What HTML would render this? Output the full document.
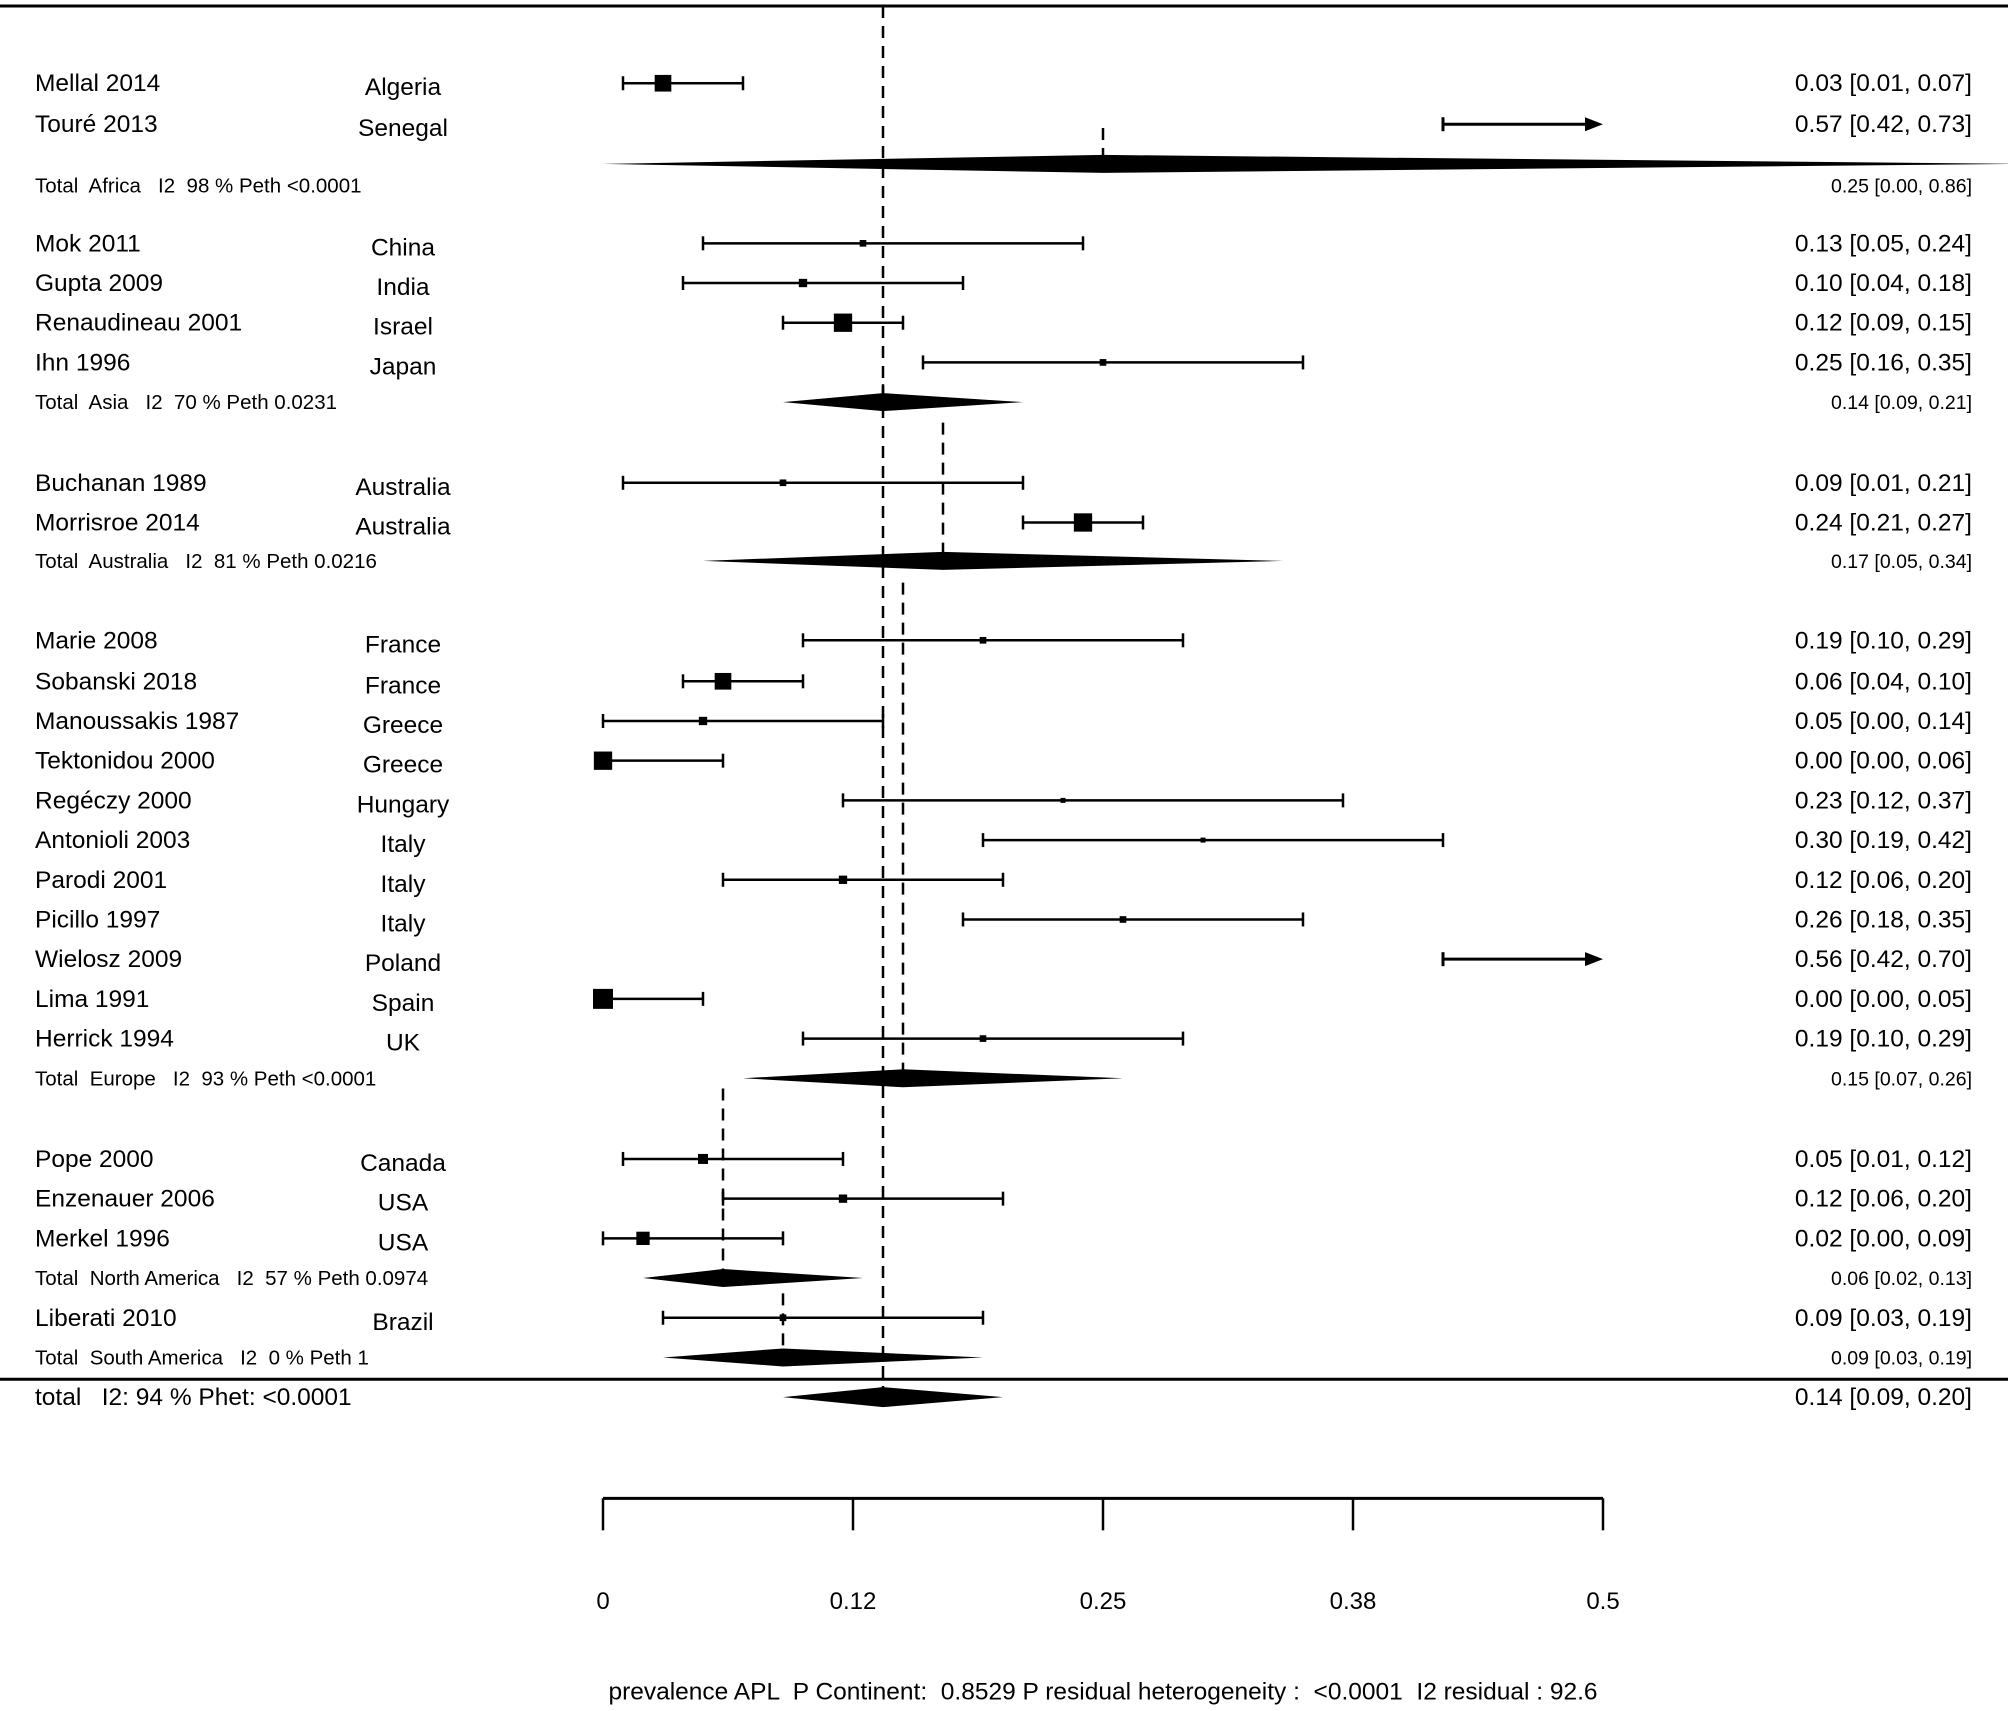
<!DOCTYPE html>
<html><head><meta charset="utf-8">
<style>
html,body{margin:0;padding:0;background:#fff;}
svg{display:block;}
text{font-family:"Liberation Sans",Arial,sans-serif;fill:#000;white-space:pre;}
</style></head>
<body>
<svg id="chart" width="2008" height="1711" viewBox="0 0 2008 1711" xmlns="http://www.w3.org/2000/svg" xml:space="preserve"></svg>
<script>
// ---- data ----
const studyNames = ["Mellal 2014","Touré 2013","Mok 2011","Gupta 2009","Renaudineau 2001","Ihn 1996","Buchanan 1989","Morrisroe 2014","Marie 2008","Sobanski 2018","Manoussakis 1987","Tektonidou 2000","Regéczy 2000","Antonioli 2003","Parodi 2001","Picillo 1997","Wielosz 2009","Lima 1991","Herrick 1994","Pope 2000","Enzenauer 2006","Merkel 1996","Liberati 2010"];
const studyCountries = ["Algeria","Senegal","China","India","Israel","Japan","Australia","Australia","France","France","Greece","Greece","Hungary","Italy","Italy","Italy","Poland","Spain","UK","Canada","USA","USA","Brazil"];
const studyEst = [0.03,0.57,0.13,0.10,0.12,0.25,0.09,0.24,0.19,0.06,0.05,0.00,0.23,0.30,0.12,0.26,0.56,0.00,0.19,0.05,0.12,0.02,0.09];
const studyLo = [0.01,0.42,0.05,0.04,0.09,0.16,0.01,0.21,0.10,0.04,0.00,0.00,0.12,0.19,0.06,0.18,0.42,0.00,0.10,0.01,0.06,0.00,0.03];
const studyHi = [0.07,0.73,0.24,0.18,0.15,0.35,0.21,0.27,0.29,0.10,0.14,0.06,0.37,0.42,0.20,0.35,0.70,0.05,0.29,0.12,0.20,0.09,0.19];
const studyWeight = [10,0,4,5,11,4,4,11,4,10,5,11,3,3,5,4,0,12,4,6,5,8,4];
const studyRow = [65,97,190,221,252,283,377,408,500,532,563,594,625,656,687,718,749,780,811,905,936,967,1029];

const groupLabels = ["Total  Africa   I2  98 % Peth <0.0001","Total  Asia   I2  70 % Peth 0.0231","Total  Australia   I2  81 % Peth 0.0216","Total  Europe   I2  93 % Peth <0.0001","Total  North America   I2  57 % Peth 0.0974","Total  South America   I2  0 % Peth 1"];
const groupEst = [0.25,0.14,0.17,0.15,0.06,0.09];
const groupLo = [0.00,0.09,0.05,0.07,0.02,0.03];
const groupHi = [0.86,0.21,0.34,0.26,0.13,0.19];
const groupRow = [128,314,438,842,998,1060];
const groupTextRow = [145,314,438,842,998,1060];
const groupTop = [100,300,330,455,850,1010];

const overallEst = 0.14, overallLo = 0.09, overallHi = 0.20;
const tickValues = [0,0.125,0.25,0.375,0.5];
const tickLabels = ["0","0.12","0.25","0.38","0.5"];

// ---- scales ----
const S = 2008/1568;
const X0 = 603, X1 = 1603, VMAX = 0.5;
function xs(v){ return X0 + (X1-X0)*v/VMAX; }
function ys(r){ return r*S; }
const fmt = v => v.toFixed(2);

const svg = document.getElementById('chart');
const NS = "http://www.w3.org/2000/svg";
function mk(tag, attrs, parent){
  const e = document.createElementNS(NS, tag);
  for (const k in attrs) e.setAttribute(k, attrs[k]);
  (parent||svg).appendChild(e);
  return e;
}
function txt(str, x, y, size, anchor, name){
  const t = mk('text', {x:x, y:y, 'font-size':size, 'text-anchor':anchor||'start'});
  t.setAttributeNS("http://www.w3.org/XML/1998/namespace","xml:space","preserve");
  t.textContent = str;
  
  
  return t;
}

let l = mk('line',{x1:0,y1:6,x2:2008,y2:6,stroke:'#000','stroke-width':3});


l = mk('line',{x1:0,y1:ys(1077),x2:2008,y2:ys(1077),stroke:'#000','stroke-width':3});



l = mk('line',{x1:xs(overallEst),y1:6,x2:xs(overallEst),y2:ys(1091),stroke:'#000','stroke-width':2.5,'stroke-dasharray':'12,8'});



for (let i=0;i<groupEst.length;i++){
  const cy = ys(groupRow[i]);
  const d = mk('line',{x1:xs(groupEst[i]),y1:ys(groupTop[i]),x2:xs(groupEst[i]),y2:cy,stroke:'#000','stroke-width':2.5,'stroke-dasharray':'12,8'});
  
  
  const p = mk('polygon',{points:`${xs(groupLo[i])},${cy} ${xs(groupEst[i])},${cy-9} ${Math.min(xs(groupHi[i]),2020)},${cy} ${xs(groupEst[i])},${cy+9}`,fill:'#000'});
  
  
  const ty = ys(groupTextRow[i])+7;
  txt(groupLabels[i], 35, ty, 20.5, 'start', 'subgroup-label');
  txt(`${fmt(groupEst[i])} [${fmt(groupLo[i])}, ${fmt(groupHi[i])}]`, 1972, ty, 19.5, 'end', 'subgroup-value');
}

for (let i=0;i<studyEst.length;i++){
  const cy = ys(studyRow[i]);
  txt(studyNames[i], 35, cy+8, 24.5, 'start', 'study-name');
  txt(studyCountries[i], 403, cy+12, 24.5, 'middle', 'study-country');
  txt(`${fmt(studyEst[i])} [${fmt(studyLo[i])}, ${fmt(studyHi[i])}]`, 1972, cy+8, 24.5, 'end', 'study-value');
  const lo = xs(studyLo[i]);
  if (studyHi[i] > VMAX){
    const e = mk('line',{x1:lo,y1:cy,x2:xs(VMAX)-14,y2:cy,stroke:'#000','stroke-width':3});
    
    
    const c = mk('line',{x1:lo,y1:cy-7,x2:lo,y2:cy+7,stroke:'#000','stroke-width':3});
    
    
    const a = mk('polygon',{points:`${xs(VMAX)},${cy} ${xs(VMAX)-18},${cy-7} ${xs(VMAX)-18},${cy+7}`,fill:'#000'});
    
    
  } else {
    const hi = xs(studyHi[i]);
    const e = mk('line',{x1:lo,y1:cy,x2:hi,y2:cy,stroke:'#000','stroke-width':2.5});
    
    
    for (const cx of [lo,hi]){
      const c = mk('line',{x1:cx,y1:cy-7,x2:cx,y2:cy+7,stroke:'#000','stroke-width':2.5});
      
      
    }
  }
  if (studyWeight[i] > 0 && studyEst[i] <= VMAX){
    const s = studyWeight[i]*S*1.3;
    const r = mk('rect',{x:xs(studyEst[i])-s/2,y:cy-s/2,width:s,height:s,fill:'#000'});
    
    
  }
}

{
  const cy = ys(1091);
  const p = mk('polygon',{points:`${xs(overallLo)},${cy} ${xs(overallEst)},${cy-10} ${xs(overallHi)},${cy} ${xs(overallEst)},${cy+10}`,fill:'#000'});
  
  
  txt('total   I2: 94 % Phet: <0.0001', 35, cy+8, 24.5, 'start', 'overall-label');
  txt(`${fmt(overallEst)} [${fmt(overallLo)}, ${fmt(overallHi)}]`, 1972, cy+8, 24.5, 'end', 'overall-value');
}

const axY = ys(1170);
l = mk('line',{x1:xs(0),y1:axY,x2:xs(VMAX),y2:axY,stroke:'#000','stroke-width':3});


for (let i=0;i<tickValues.length;i++){
  const tx = xs(tickValues[i]);
  const t = mk('line',{x1:tx,y1:axY,x2:tx,y2:ys(1195),stroke:'#000','stroke-width':2.5});
  
  
  txt(tickLabels[i], tx, ys(1250)+8, 24, 'middle', 'x-tick-label');
}
txt('prevalence APL  P Continent:  0.8529 P residual heterogeneity :  <0.0001  I2 residual : 92.6', xs(0.25), ys(1321)+8, 24.5, 'middle', 'x-axis-title');
</script>
</body></html>
